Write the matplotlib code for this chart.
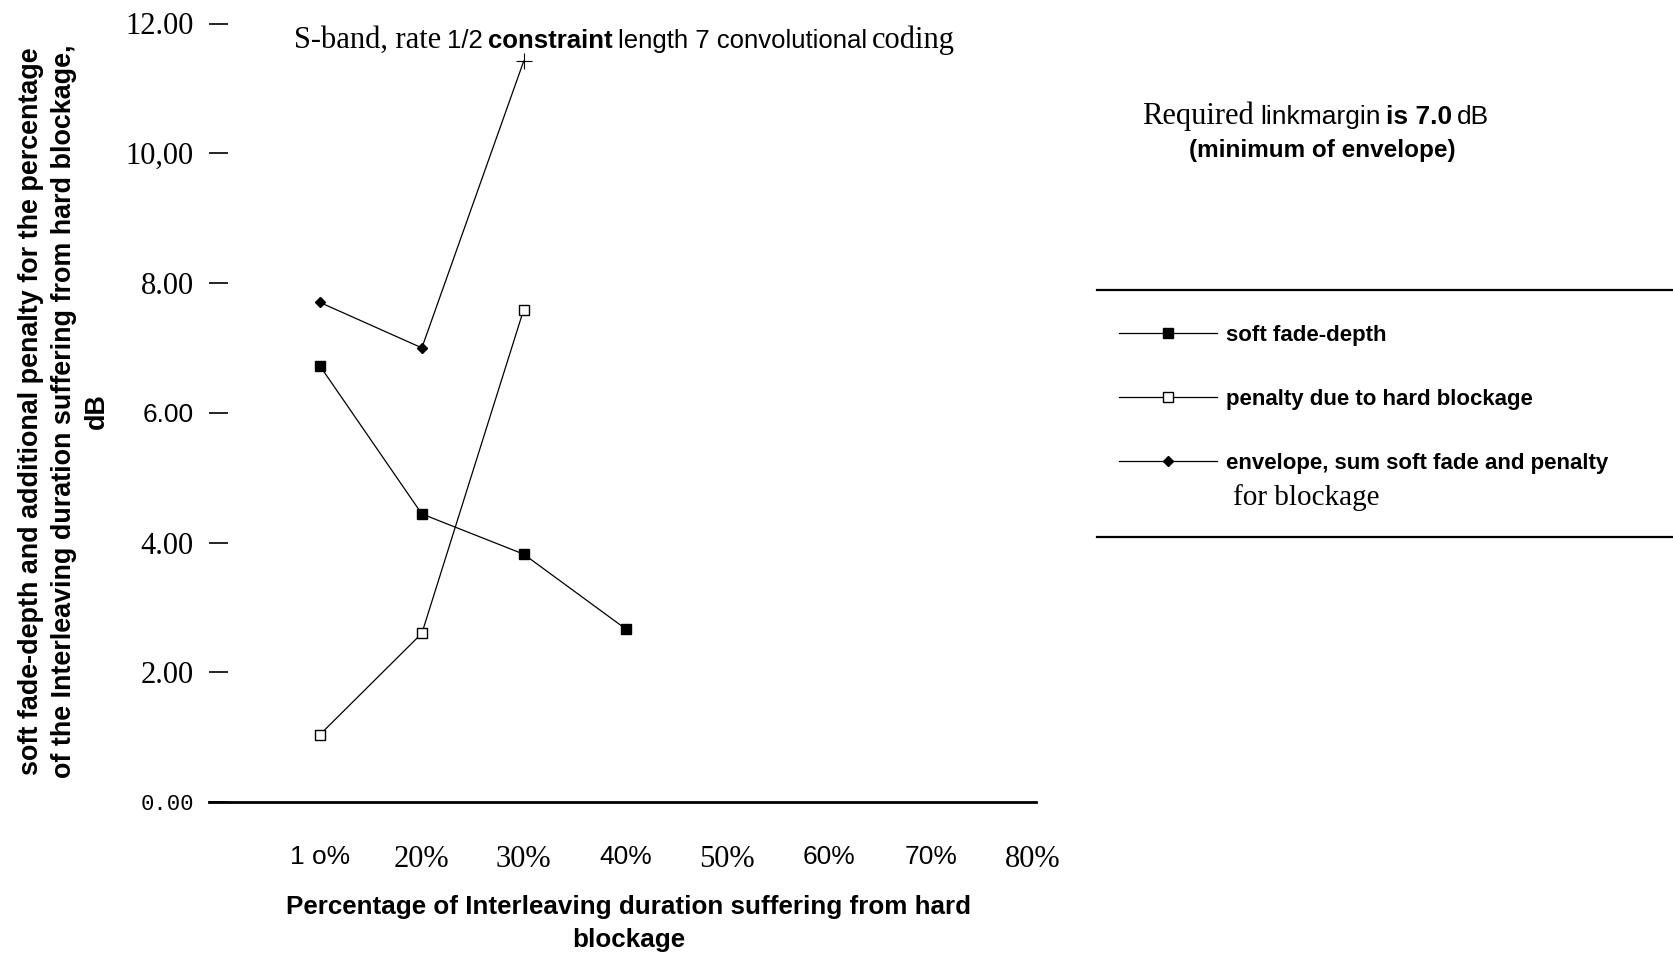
import numpy as np
import matplotlib
matplotlib.use('Agg')
import matplotlib.pyplot as plt
from matplotlib.lines import Line2D

# данные с графика
pct = [10, 20, 30, 40]
soft_fade = [6.72, 4.44, 3.82, 2.67]
penalty = [1.04, 2.60, 7.59]
envelope = [7.70, 7.00, 11.42]

x_ticks = [10, 20, 30, 40, 50, 60, 70, 80]
x_labels = ['1 o%', '20%', '30%', '40%', '50%', '60%', '70%', '80%']
x_label_fonts = ['sans', 'serif', 'serif', 'sans', 'serif', 'sans', 'sans', 'serif']
y_ticks = [0, 2, 4, 6, 8, 10, 12]
y_labels = ['0.00', '2.00', '4.00', '6.00', '8.00', '10,00', '12.00']
y_label_fonts = ['mono', 'serif', 'serif', 'sans', 'serif', 'serif', 'serif']

SERIF = 'Liberation Serif'
SANS = 'Liberation Sans'
MONO = 'Liberation Mono'
font_map = {'serif': (SERIF, 22), 'sans': (SANS, 19), 'mono': (MONO, 16)}

W, H = 1674, 958
fig = plt.figure(figsize=(W / 100, H / 100), dpi=100)
ax = fig.add_axes([209 / W, 1 - 802 / H, 827 / W, (802 - 23.5) / H])

# линии
ax.plot(pct, soft_fade, color='black', linewidth=0.9, marker='s', markersize=7,
        markerfacecolor='black', markeredgecolor='black', label='soft fade-depth')
ax.plot(pct[:3], penalty, color='black', linewidth=0.9, marker='s', markersize=7,
        markerfacecolor='white', markeredgecolor='black', markeredgewidth=1,
        label='penalty due to hard blockage')
ax.plot(pct[:3], envelope, color='black', linewidth=0.9, marker='D', markersize=5.5,
        markevery=[0, 1], label='envelope, sum soft fade and penalty')
ax.plot(pct[2], envelope[2], color='black', marker='+', markersize=12,
        markeredgewidth=0.8, linestyle='none', clip_on=False)

ax.set_xlim(-0.9, 80.3)
ax.set_ylim(0, 12)

for s in ['left', 'right', 'top']:
    ax.spines[s].set_visible(False)
ax.spines['bottom'].set_linewidth(2)

ax.set_xticks(x_ticks)
ax.set_xticklabels(x_labels)
ax.tick_params(axis='x', length=0, pad=31)
for lbl, f in zip(ax.get_xticklabels(), x_label_fonts):
    fam, size = font_map[f]
    lbl.set_fontfamily(fam)
    lbl.set_fontsize(size)

ax.set_yticks(y_ticks)
ax.set_yticklabels(y_labels)
ax.tick_params(axis='y', direction='in', length=14, width=1.2, pad=11)
for lbl, f in zip(ax.get_yticklabels(), y_label_fonts):
    fam, size = font_map[f]
    lbl.set_fontfamily(fam)
    lbl.set_fontsize(size)

ax.set_xlabel('Percentage of Interleaving duration suffering from hard\nblockage',
              fontfamily=SANS, fontweight='bold', fontsize=18.7, linespacing=1.5)
ax.xaxis.set_label_coords(0.507, -0.119)
ax.set_ylabel('soft fade-depth and additional penalty for the percentage\n'
              'of the Interleaving duration suffering from hard blockage,\ndB',
              fontfamily=SANS, fontweight='bold', fontsize=19.4, linespacing=1.35)
ax.yaxis.set_label_coords(-0.12, 0.502)

# текст из кусков разными шрифтами
renderer = fig.canvas.get_renderer()


def put_pieces(x_px, base_px, pieces):
    x = x_px
    for txt, fam, size, wt in pieces:
        t = fig.text(x / W, 1 - base_px / H, txt, fontfamily=fam, fontsize=size,
                     fontweight=wt, va='baseline', ha='left')
        bb = t.get_window_extent(renderer)
        x += bb.width + size * 0.28


put_pieces(294, 48, [
    ('S-band, rate', SERIF, 22, 'normal'),
    ('1/2', SANS, 18.5, 'normal'),
    ('constraint', SANS, 18.5, 'bold'),
    ('length 7 convolutional', SANS, 18.5, 'normal'),
    ('coding', SERIF, 22, 'normal'),
])
put_pieces(1142, 124, [
    ('Required', SERIF, 22, 'normal'),
    ('linkmargin', SANS, 19, 'normal'),
    ('is 7.0', SANS, 19, 'bold'),
    ('dB', SANS, 19, 'normal'),
])
fig.text(1322 / W, 1 - 151 / H, '(minimum of envelope)', fontfamily=SANS,
         fontsize=17.5, fontweight='bold', ha='center', va='center')

# легенда между двумя линиями
fig.add_artist(Line2D([1097 / W, 1], [1 - 290 / H, 1 - 290 / H], color='black', linewidth=1.6))
fig.add_artist(Line2D([1097 / W, 1], [1 - 537 / H, 1 - 537 / H], color='black', linewidth=1.6))

leg = ax.legend(loc='upper left', bbox_to_anchor=(1119 / W, 1 - 324.5 / H),
                bbox_transform=fig.transFigure, frameon=False,
                prop={'family': SANS, 'weight': 'bold', 'size': 16},
                handlelength=4.4, handletextpad=0.4, labelspacing=1.95,
                borderpad=0, borderaxespad=0)
fig.text(1233 / W, 1 - 498 / H, 'for blockage', fontfamily=SERIF, fontsize=21,
         ha='left', va='center')

fig.savefig('out.png', dpi=100, facecolor='white')
